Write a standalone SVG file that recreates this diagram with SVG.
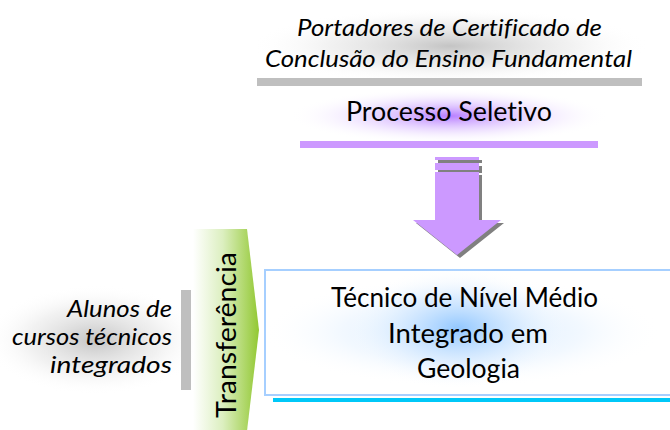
<svg xmlns="http://www.w3.org/2000/svg" width="670" height="430" viewBox="0 0 670 430">
  <defs>
    <style>
      .t { font-family: Lato, "Liberation Sans", sans-serif; fill: #000; font-variant-ligatures: none; }
      .it { font-style: italic; }
      .c { text-anchor: middle; }
      .e { text-anchor: end; }
    </style>
    <radialGradient id="gGrey" cx="0.5" cy="0.5" r="0.5">
      <stop offset="0" stop-color="#b0b0b0" stop-opacity="0.75"/>
      <stop offset="0.6" stop-color="#d8d8d8" stop-opacity="0.35"/>
      <stop offset="1" stop-color="#ffffff" stop-opacity="0"/>
    </radialGradient>
    <radialGradient id="gPurple" cx="0.5" cy="0.5" r="0.5">
      <stop offset="0" stop-color="#b070ff" stop-opacity="0.9"/>
      <stop offset="0.55" stop-color="#dcc0ff" stop-opacity="0.45"/>
      <stop offset="1" stop-color="#ffffff" stop-opacity="0"/>
    </radialGradient>
    <radialGradient id="gBlue" cx="0.5" cy="0.5" r="0.5">
      <stop offset="0" stop-color="#8cc4ff" stop-opacity="0.9"/>
      <stop offset="0.55" stop-color="#cfe6ff" stop-opacity="0.5"/>
      <stop offset="1" stop-color="#ffffff" stop-opacity="0"/>
    </radialGradient>
    <radialGradient id="gBlueSoft" cx="0.5" cy="0.5" r="0.5">
      <stop offset="0" stop-color="#b8dcff" stop-opacity="0.7"/>
      <stop offset="0.6" stop-color="#e2f0ff" stop-opacity="0.45"/>
      <stop offset="1" stop-color="#ffffff" stop-opacity="0"/>
    </radialGradient>
    <linearGradient id="gGreen" x1="0" y1="0" x2="1" y2="0">
      <stop offset="0" stop-color="#ffffff"/>
      <stop offset="0.45" stop-color="#dcefc0"/>
      <stop offset="1" stop-color="#92c832"/>
    </linearGradient>
  </defs>

  <g id="top-source">
    <ellipse cx="450" cy="46" rx="200" ry="38" fill="url(#gGrey)"/>
    <text class="t it c" x="449.5" y="36" font-size="24" textLength="305" lengthAdjust="spacingAndGlyphs">Portadores de Certificado de</text>
    <text class="t it c" x="448.5" y="67" font-size="24" textLength="367" lengthAdjust="spacingAndGlyphs">Conclusão do Ensino Fundamental</text>
    <rect x="257" y="78" width="385" height="8" fill="#bfbfbf"/>
  </g>

  <g id="processo">
    <ellipse cx="449" cy="116" rx="160" ry="28" fill="url(#gPurple)"/>
    <text class="t c" x="449" y="121" font-size="27" textLength="206" lengthAdjust="spacingAndGlyphs">Processo Seletivo</text>
    <rect x="300" y="141" width="298" height="7" fill="#cc99ff"/>
  </g>

  <g id="connectors">
    <g transform="translate(3,3)" fill="#808080">
      <rect x="435" y="157" width="44" height="3"/>
      <rect x="435" y="163" width="44" height="7"/>
      <polygon points="435,172 479,172 479,220 501,220 457,255 413,220 435,220"/>
    </g>
    <g fill="#cc99ff">
      <rect x="435" y="157" width="44" height="3"/>
      <rect x="435" y="163" width="44" height="7"/>
      <polygon points="435,172 479,172 479,220 501,220 457,255 413,220 435,220"/>
    </g>
  </g>

  <g id="alunos">
    <ellipse cx="95" cy="340" rx="110" ry="55" fill="url(#gGrey)"/>
    <text class="t it e" x="172" y="317" font-size="24" textLength="105" lengthAdjust="spacingAndGlyphs">Alunos de</text>
    <text class="t it e" x="172" y="345" font-size="24" textLength="160" lengthAdjust="spacingAndGlyphs">cursos técnicos</text>
    <text class="t it e" x="172" y="373" font-size="24" textLength="122" lengthAdjust="spacingAndGlyphs">integrados</text>
    <rect x="181" y="290" width="10" height="100" fill="#bfbfbf"/>
  </g>

  <g id="transferencia">
    <polygon points="193,229 247,229 259,330 247,431 193,431" fill="url(#gGreen)"/>
    <text class="t c" font-size="27" transform="translate(236 335) rotate(-90)" x="0" y="0" textLength="166" lengthAdjust="spacingAndGlyphs">Transferência</text>
  </g>

  <g id="curso">
    <rect x="273" y="398" width="397" height="4" fill="#00c8f8"/>
    <rect x="265" y="270" width="410" height="125" fill="#ffffff" stroke="#a6cfff" stroke-width="2"/>
    <ellipse cx="462" cy="332" rx="200" ry="55" fill="url(#gBlueSoft)"/>
    <ellipse cx="458" cy="328" rx="110" ry="62" fill="url(#gBlue)"/>
    <text class="t c" x="464.5" y="307" font-size="27" textLength="267" lengthAdjust="spacingAndGlyphs">Técnico de Nível Médio</text>
    <text class="t c" x="468" y="343" font-size="27" textLength="160" lengthAdjust="spacingAndGlyphs">Integrado em</text>
    <text class="t c" x="468.5" y="378" font-size="27" textLength="103" lengthAdjust="spacingAndGlyphs">Geologia</text>
  </g>
</svg>
